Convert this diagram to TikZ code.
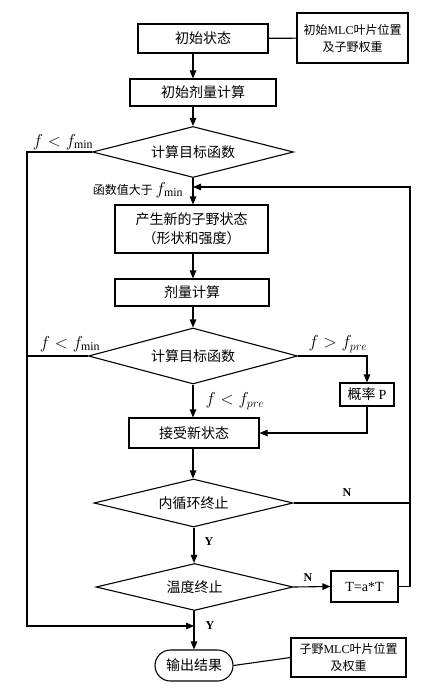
\documentclass[tikz,border=0pt]{standalone}
\usepackage{fontspec}
\setmainfont{Liberation Serif}
\newfontfamily\cjk{Noto Sans CJK SC}
\usetikzlibrary{shapes.geometric,shapes.misc,arrows.meta}

\tikzset{
  box/.style={draw, inner sep=0pt, align=center, font=\fontsize{14}{19}\selectfont\cjk},
  notebox/.style={draw, inner sep=0pt, align=center, font=\fontsize{12}{17}\selectfont\cjk},
  decision/.style={draw, diamond, aspect=4, inner sep=0pt, font=\fontsize{14}{19}\selectfont\cjk},
  terminal/.style={draw, rounded rectangle, inner sep=0pt, font=\fontsize{14}{19}\selectfont\cjk},
  lbl/.style={inner sep=1pt, font=\fontsize{17}{19}\selectfont},
  yn/.style={inner sep=1pt, font=\fontsize{12}{14}\selectfont\bfseries},
}

\begin{document}
\begin{tikzpicture}[x=1pt, y=-1pt, line width=1.1pt, >={Triangle[length=8pt,width=6.5pt]}]
    \useasboundingbox (0,0) rectangle (434,690);

    % Start
    \node[box, minimum width=130pt, minimum height=29pt] (init) at (203,38.5) {初始状态};
    \node[notebox, minimum width=111pt, minimum height=50pt] (initnote) at (352.5,38) {初始{\rmfamily MLC}叶片位置\\及子野权重};
    \node[box, minimum width=146pt, minimum height=27pt] (dose0) at (203,92.5) {初始剂量计算};
    \node[decision, minimum width=201pt, minimum height=51pt] (obj1) at (193,152) {计算目标函数};

    % Inner loop
    \node[box, minimum width=153pt, minimum height=48pt] (newstate) at (191.5,229) {产生新的子野状态\\（形状和强度）};
    \node[box, minimum width=154pt, minimum height=27pt] (dose) at (192,292.5) {剂量计算};
    \node[decision, minimum width=209pt, minimum height=56pt] (obj2) at (193,356) {计算目标函数};
    \node[box, minimum width=54pt, minimum height=23pt] (prob) at (367,394.5) {概率 {\rmfamily P}};
    \node[box, minimum width=130pt, minimum height=30pt] (accept) at (194,433) {接受新状态};
    \node[decision, minimum width=199pt, minimum height=48pt] (inner) at (193.5,503) {内循环终止};

    % Outer loop
    \node[decision, minimum width=197pt, minimum height=47pt] (temp) at (194.5,587) {温度终止};
    \node[box, minimum width=67pt, minimum height=31pt, font=\fontsize{14}{19}\selectfont] (cool) at (364.5,586.5) {T=a*T};
    \node[terminal, minimum width=78pt, minimum height=31pt] (out) at (194,665.5) {输出结果};
    \node[notebox, minimum width=115pt, minimum height=39pt] (outnote) at (348.5,657.5) {子野{\rmfamily MLC}叶片位置\\及权重};

    % Corner points
    \coordinate (back) at (193,187);
    \coordinate (rgt) at (410,187);
    \coordinate (lft) at (27,626);
    \coordinate (join) at (194,626);

    % Flow
    \draw (init) -- (initnote);
    \draw[->] (init.south -| obj1) -- (dose0.north -| obj1);
    \draw[->] (dose0.south -| obj1) -- (obj1.north);
    \draw[->] (obj1.south) -- (newstate.north -| obj1);
    \draw[->] (newstate.south -| obj1) -- (dose.north -| obj1);
    \draw[->] (dose.south -| obj1) -- (obj2.north);
    \draw[->] (obj2.east) -| (prob.north);
    \draw[->] (prob.south) |- (accept.east);
    \draw[->] (obj2.south) -- (accept.north -| obj2);
    \draw[->] (accept.south -| obj2) -- (inner.north -| obj2);
    \draw[->] (inner.south -| join) -- (temp.north -| join);
    \draw[->] (temp.east) -- (cool.west);
    \draw[->] (temp.south -| join) -- (out.north -| join);
    \draw (out.east) -- (outnote.west);

    % Back to new state
    \draw[->] (cool.east) -| (rgt) -- (back);
    \draw (inner.east) -- (inner.east -| rgt);

    % Exit on f < f_min
    \draw[->] (obj1.west) -| (lft) -- (join);
    \draw (obj2.west) -- (obj2.west -| lft);

    % Labels
    \node[lbl] (fmin1) at (63,142) {$f<f_{\min}$};
    \node[lbl] (fval) at (138,190) {{\cjk\fontsize{12}{14}\selectfont 函数值大于}\,$f_{\min}$};
    \node[lbl] (fmin2) at (70,344) {$f<f_{\min}$};
    \node[lbl] (fup) at (338,344) {$f>f_{pre}$};
    \node[lbl] (fdown) at (235,401) {$f<f_{pre}$};
    \node[yn] (no1) at (347,493) {N};
    \node[yn] (yes1) at (209,542) {Y};
    \node[yn] (no2) at (308,578) {N};
    \node[yn] (yes2) at (210,626) {Y};
\end{tikzpicture}
\end{document}
